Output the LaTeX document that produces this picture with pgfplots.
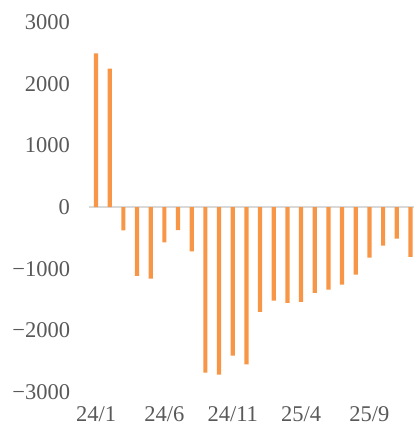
\documentclass[border=0pt]{standalone}
\usepackage{fontspec}
\setmainfont{Liberation Serif}
\usepackage{pgfplots}
\pgfplotsset{compat=1.18}
\definecolor{barO}{HTML}{F79646}
\definecolor{tickG}{HTML}{595959}
\definecolor{zeroG}{HTML}{D9D9D9}

\begin{document}
\begin{tikzpicture}
\begin{axis}[scale only axis, width=324.8bp, height=370bp,
  xmin=-0.5, xmax=23.26, ymin=-3000, ymax=3000,
  axis line style={draw=none}, major tick length=0pt,
  xtick={0,5,10,15,20}, xticklabels={24/1,24/6,24/11,25/4,25/9},
  ytick={-3000,-2000,-1000,0,1000,2000,3000},
  yticklabels={−3000,−2000,−1000,0,1000,2000,3000},
  ticklabel style={font=\fontsize{22.5bp}{26bp}\selectfont, text=tickG},
  yticklabel style={inner sep=0pt, xshift=-19bp},
  xticklabel style={inner sep=0pt, anchor=north, yshift=-14.5bp},
  clip=false]
  \draw[zeroG, line width=1.3bp] (axis cs:-0.5,0) -- (axis cs:23.26,0);
  \addplot[ybar, bar width=4.2bp, fill=barO, draw=none] coordinates {
    (0,2491) (1,2242) (2,-378) (3,-1118) (4,-1162) (5,-572) (6,-373) (7,-718)
    (8,-2685) (9,-2718) (10,-2410) (11,-2550) (12,-1702) (13,-1518) (14,-1556)
    (15,-1540) (16,-1394) (17,-1340) (18,-1259) (19,-1097) (20,-821) (21,-627)
    (22,-513) (23,-810)};
\end{axis}
\path (current axis.south west) ++(-89.2bp,-33bp) coordinate (bl);
\path (current axis.north east) ++(0bp,22bp) coordinate (tr);
\path (bl) -- (tr);
\end{tikzpicture}
\end{document}
